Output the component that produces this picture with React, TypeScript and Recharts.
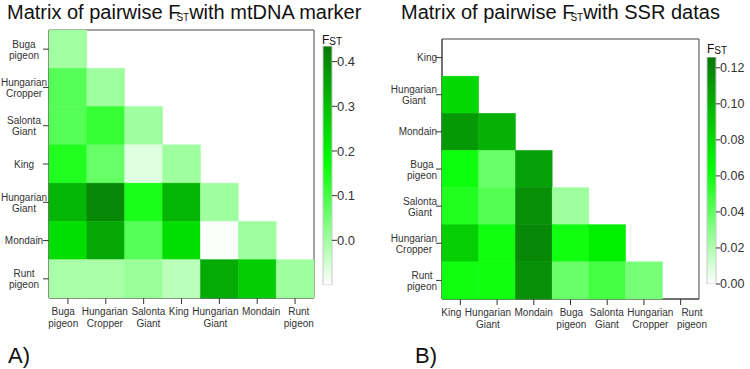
import React from "react"
import { ScatterChart, Scatter, XAxis, YAxis, ReferenceArea, BarChart, Bar } from "recharts"

// panel A: mtDNA marker
const mtPops = ["Buga pigeon", "Hungarian Cropper", "Salonta Giant", "King", "Hungarian Giant", "Mondain", "Runt pigeon"]
const mtBuga = [0.0]
const mtCropper = [0.083, 0.003]
const mtSalonta = [0.083, 0.12, 0.003]
const mtKing = [0.139, 0.065, -0.067, 0.003]
const mtHGiant = [0.318, 0.402, 0.147, 0.318, 0.003]
const mtMondain = [0.24, 0.341, 0.083, 0.24, -0.095, 0.003]
const mtRunt = [-0.006, -0.006, 0.01, -0.026, 0.337, 0.272, 0.003]
const mtTicks = [0, 0.1, 0.2, 0.3, 0.4]
const mtRange = [-0.1, 0.435]
const mtMid = 0.175

// panel B: SSR data
const ssrPops = ["King", "Hungarian Giant", "Mondain", "Buga pigeon", "Salonta Giant", "Hungarian Cropper", "Runt pigeon"]
const ssrKing: number[] = []
const ssrHGiant = [0.082]
const ssrMondain = [0.111, 0.1]
const ssrBuga = [0.061, 0.038, 0.107]
const ssrSalonta = [0.056, 0.043, 0.115, 0.024]
const ssrCropper = [0.086, 0.06, 0.118, 0.06, 0.071]
const ssrRunt = [0.06, 0.06, 0.115, 0.038, 0.047, 0.034]
const ssrTicks = [0, 0.02, 0.04, 0.06, 0.08, 0.1, 0.12]
const ssrRange = [0, 0.126]
const ssrMid = 0.064

const FONT = '"Liberation Sans", Arial, Helvetica, sans-serif'
const DARK = "#087808"
const INK = "#333"

function fstColor(v: number, range: number[], mid: number) {
  if (v <= mid) {
    const t = Math.max(0, Math.min(1, (v - range[0]) / (mid - range[0])))
    const c = Math.round(255 * (1 - t))
    return `rgb(${c},255,${c})`
  }
  const f = Math.min(1, (v - mid) / (range[1] - mid))
  const g = Math.round(255 - f * (255 - 120))
  return `rgb(${Math.round(f * 8)},${g},${Math.round(f * 8)})`
}

let ctx: CanvasRenderingContext2D | null = null
function textW(s: string) {
  if (!ctx && typeof document !== "undefined") ctx = document.createElement("canvas").getContext("2d")
  if (!ctx) return s.length * 5.2
  ctx.font = `10px ${FONT}`
  return ctx.measureText(s).width
}

// push neighbouring labels apart so they don't run into each other
function spreadLabels(pops: string[], step: number, gap: number) {
  const w = pops.map((p) => Math.max(...p.split(" ").map(textW)))
  const c = pops.map((_, i) => (i + 0.5) * step)
  for (let k = 0; k < 30; k++) {
    for (let i = 0; i < c.length - 1; i++) {
      const over = c[i] + w[i] / 2 + gap - (c[i + 1] - w[i + 1] / 2)
      if (over > 0) {
        c[i] -= over / 2
        c[i + 1] += over / 2
      }
    }
  }
  return c.map((v, i) => v - (i + 0.5) * step)
}

type HeatProps = {
  left: number
  width: number
  height: number
  margin: { top: number; right: number; bottom: number; left: number }
  yWidth: number
  pops: string[]
  rows: number[][]
  range: number[]
  mid: number
  labelMode: "center" | "right"
}

function Heatmap({ left, width, height, margin, yWidth, pops, rows, range, mid, labelMode }: HeatProps) {
  const n = pops.length
  const plotW = width - margin.left - margin.right - yWidth
  const plotH = height - margin.top - margin.bottom - 40
  const cw = plotW / n
  const ch = plotH / n
  const cells = rows.flatMap((row, r) => row.map((v, c) => ({ x: c + 0.5, y: r + 0.5, v })))
  const centers = pops.map((_, i) => i + 0.5)
  const shifts = spreadLabels(pops, cw, 3.5)

  const cellShape = (p: any) => (
    <rect
      x={p.cx - cw / 2}
      y={p.cy - ch / 2}
      width={cw}
      height={ch}
      fill={fstColor(p.payload.v, range, mid)}
      stroke={fstColor(p.payload.v, range, mid)}
      strokeWidth={0.5}
    />
  )

  const xTick = (p: any) => {
    const idx = Math.floor(p.payload.value)
    const lines = pops[idx].split(" ")
    const x = p.x + shifts[idx]
    return (
      <text x={x} y={p.y} textAnchor="middle" fontSize={10} fontFamily={FONT} fill={INK}>
        {lines.map((l, i) => (
          <tspan key={i} x={x} dy={i === 0 ? 9 : 11.5}>{l}</tspan>
        ))}
      </text>
    )
  }

  const yTick = (p: any) => {
    const lines = pops[Math.floor(p.payload.value)].split(" ")
    let cx = 24 - left
    if (labelMode === "right") {
      const w = Math.max(...lines.map(textW))
      cx = p.x + 1 - w / 2
    }
    const y0 = lines.length === 1 ? p.y + 3.5 : p.y - 1.5
    return (
      <text x={cx} y={y0} textAnchor="middle" fontSize={10} fontFamily={FONT} fill={INK}>
        {lines.map((l, i) => (
          <tspan key={i} x={cx} dy={i === 0 ? 0 : 11}>{l}</tspan>
        ))}
      </text>
    )
  }

  return (
    <div style={{ position: "absolute", left, top: 0 }}>
      <ScatterChart width={width} height={height} margin={margin}>
        <XAxis
          type="number"
          dataKey="x"
          domain={[0, n]}
          ticks={centers}
          interval={0}
          height={40}
          tick={xTick}
          tickSize={6}
          tickMargin={2}
          axisLine={{ stroke: "#444" }}
          tickLine={{ stroke: INK }}
        />
        <YAxis
          type="number"
          dataKey="y"
          domain={[0, n]}
          reversed
          ticks={centers}
          interval={0}
          width={yWidth}
          tick={yTick}
          tickSize={6}
          tickMargin={0}
          axisLine={{ stroke: "#444" }}
          tickLine={{ stroke: INK }}
        />
        <Scatter data={cells} shape={cellShape} isAnimationActive={false} />
        <ReferenceArea x1={0} x2={n} y1={0} y2={n} fill="none" stroke="#444" strokeWidth={1} />
      </ScatterChart>
    </div>
  )
}

type BarProps = {
  left: number
  top: number
  height: number
  margin: { top: number; right: number; bottom: number; left: number }
  range: number[]
  mid: number
  ticks: number[]
  digits: number
  tickSize: number
  fontSize: number
  gradId: string
}

function ColorBar({ left, top, height, margin, range, mid, ticks, digits, tickSize, fontSize, gradId }: BarProps) {
  const data = [{ name: "fst", span: range }]
  const midOff = (range[1] - mid) / (range[1] - range[0])
  return (
    <div style={{ position: "absolute", left, top }}>
      <BarChart width={51} height={height} data={data} margin={margin} barCategoryGap={0}>
        <defs>
          <linearGradient id={gradId} x1="0" y1="0" x2="0" y2="1">
            <stop offset="0" stopColor={DARK} />
            <stop offset={midOff} stopColor="#00ff00" />
            <stop offset="1" stopColor="#ffffff" />
          </linearGradient>
        </defs>
        <XAxis dataKey="name" hide />
        <YAxis
          orientation="right"
          type="number"
          domain={range}
          allowDataOverflow
          ticks={ticks}
          interval={0}
          tickFormatter={(v: number) => v.toFixed(digits)}
          width={34}
          axisLine={false}
          tickSize={tickSize}
          tickMargin={0}
          tickLine={{ stroke: INK }}
          tick={{ fill: INK, fontSize, fontFamily: FONT }}
        />
        <Bar dataKey="span" fill={`url(#${gradId})`} stroke="#c8c8c8" strokeWidth={1} isAnimationActive={false} />
      </BarChart>
    </div>
  )
}

export default function App() {
  const mtRows = [mtBuga, mtCropper, mtSalonta, mtKing, mtHGiant, mtMondain, mtRunt]
  const ssrRows = [ssrKing, ssrHGiant, ssrMondain, ssrBuga, ssrSalonta, ssrCropper, ssrRunt]
  return (
    <div
      style={{
        position: "absolute",
        left: 0,
        top: 0,
        width: 750,
        height: 369,
        overflow: "hidden",
        background: "#fff",
        fontFamily: FONT,
      }}
    >
      <Heatmap
        left={0}
        width={320}
        height={340}
        margin={{ top: 30, right: 6, bottom: 2, left: 0 }}
        yWidth={49}
        pops={mtPops}
        rows={mtRows}
        range={mtRange}
        mid={mtMid}
        labelMode="center"
      />
      <Heatmap
        left={380}
        width={340}
        height={340}
        margin={{ top: 39, right: 21, bottom: 1, left: 0 }}
        yWidth={62}
        pops={ssrPops}
        rows={ssrRows}
        range={ssrRange}
        mid={ssrMid}
        labelMode="right"
      />
      <ColorBar
        left={315}
        top={40}
        height={260}
        margin={{ top: 6, right: 0, bottom: 15, left: 8 }}
        range={mtRange}
        mid={mtMid}
        ticks={mtTicks}
        digits={1}
        tickSize={5}
        fontSize={13}
        gradId="mtGrad"
      />
      <ColorBar
        left={699}
        top={50}
        height={240}
        margin={{ top: 7, right: 0, bottom: 6, left: 8 }}
        range={ssrRange}
        mid={ssrMid}
        ticks={ssrTicks}
        digits={2}
        tickSize={4}
        fontSize={12.5}
        gradId="ssrGrad"
      />
      <svg width={750} height={369} style={{ position: "absolute", left: 0, top: 0, pointerEvents: "none" }}>
        <g fontFamily={FONT} fill="#111">
          <text x={7} y={18.5} fontSize={20}>
            Matrix of pairwise F
            <tspan fontSize={10} dx={-4} dy={2.5}>ST</tspan>
            <tspan dy={-2.5}>with mtDNA marker</tspan>
          </text>
          <text x={401} y={18.5} fontSize={20}>
            Matrix of pairwise F
            <tspan fontSize={10} dx={-4} dy={2.5}>ST</tspan>
            <tspan dy={-2.5}>with SSR datas</tspan>
          </text>
          <text x={322} y={44} fontSize={12}>
            F<tspan fontSize={10} dy={1}>ST</tspan>
          </text>
          <text x={707} y={53} fontSize={12}>
            F<tspan fontSize={10} dy={1}>ST</tspan>
          </text>
          <text x={8} y={363} fontSize={22}>A)</text>
          <text x={415} y={363} fontSize={22}>B)</text>
        </g>
      </svg>
    </div>
  )
}
